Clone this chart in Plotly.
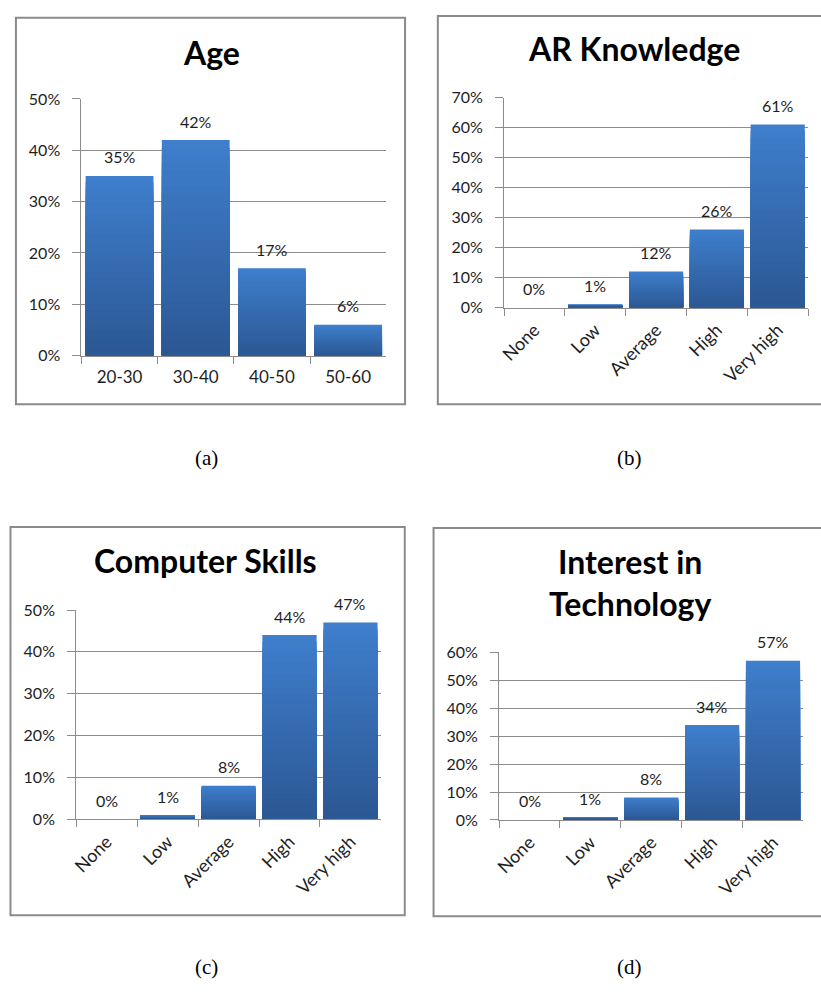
import plotly.graph_objects as go

# ---- data -------------------------------------------------------------
age_cats = ["20-30", "30-40", "40-50", "50-60"]
age_vals = [35, 42, 17, 6]

level_cats = ["None", "Low", "Average", "High", "Very high"]
ar_vals = [0, 1, 12, 26, 61]
computer_vals = [0, 1, 8, 44, 47]
interest_vals = [0, 1, 8, 34, 57]

W, H = 821, 994
FONT = "Lato"
GRID = "#8c8c8c"
TEXT = "#1e1e1e"
BAR_TOP = (62, 126, 204)
BAR_BOTTOM = (44, 88, 148)
STEPS = 28


def fx(px):
    return px / W


def fy(py):
    return 1 - py / H


def mix(t):
    c = [round(a + (b - a) * t) for a, b in zip(BAR_TOP, BAR_BOTTOM)]
    return "rgb({},{},{})".format(*c)


fig = go.Figure()

panels = [
    # title, cats, vals, ymax, plot box (x0, x1, ytop, ybottom), tickangle
    dict(title="Age", cats=age_cats, vals=age_vals, ymax=50,
         box=(76, 383, 90.7, 352.3), angle=0,
         title_xy=(207, 43), frame=(10, 402, 8, 402),
         caption="(a)", cap_xy=(202, 457)),
    dict(title="AR Knowledge", cats=level_cats, vals=ar_vals, ymax=70,
         box=(501.7, 808, 89.3, 303.3), angle=-45,
         title_xy=(633, 39), frame=(435, 835, 6, 402),
         caption="(b)", cap_xy=(628, 457)),
    dict(title="Computer Skills", cats=level_cats, vals=computer_vals, ymax=50,
         box=(70.7, 377.7, 611.7, 825), angle=-45,
         title_xy=(201, 561), frame=(4.5, 401.7, 527, 923),
         caption="(c)", cap_xy=(202, 976)),
    dict(title="Interest in<br>Technology", cats=level_cats, vals=interest_vals,
         ymax=60, box=(496.7, 803.3, 655, 825.7), angle=-45,
         title_xy=(629, 584), frame=(430.7, 835, 528, 924),
         caption="(d)", cap_xy=(628, 976)),
]

annotations = []
shapes = []
layout_axes = {}

for i, p in enumerate(panels, start=1):
    sfx = "" if i == 1 else str(i)
    xref, yref = "x" + sfx, "y" + sfx

    # gradient bars: stacked overlays, lighter at the top, darker at the base
    for s in range(STEPS):
        frac = 1 - s / STEPS
        fig.add_trace(go.Bar(
            x=p["cats"], y=[v * frac for v in p["vals"]],
            xaxis=xref, yaxis=yref, width=0.89,
            marker=dict(color=mix(s / (STEPS - 1)), line=dict(width=0)),
            showlegend=False, hoverinfo="skip",
        ))

    x0, x1, yt, yb = p["box"]
    layout_axes["xaxis" + sfx] = dict(
        domain=[fx(x0), fx(x1)], anchor=yref, type="category",
        range=[-0.5, len(p["cats"]) - 0.5],
        showgrid=False, showline=True, linecolor=GRID, linewidth=1,
        ticks="outside", tickson="boundaries", ticklen=7, tickcolor=GRID,
        tickangle=p["angle"],
        tickfont=dict(family=FONT, size=17 if p["angle"] == 0 else 18, color=TEXT),
        ticklabelstandoff=6 if p["angle"] == 0 else 4,
        fixedrange=True,
    )
    layout_axes["yaxis" + sfx] = dict(
        domain=[fy(yb), fy(yt)], anchor=xref, range=[0, p["ymax"]], dtick=10,
        ticksuffix="%", showgrid=True, gridcolor=GRID, gridwidth=1,
        showline=True, linecolor=GRID, linewidth=1,
        ticks="outside", ticklen=8, tickcolor=GRID,
        tickfont=dict(family=FONT, size=16, color=TEXT),
        ticklabelstandoff=9, zeroline=False, fixedrange=True,
    )

    # value labels above each bar
    for c, v in zip(p["cats"], p["vals"]):
        annotations.append(dict(
            x=c, y=v, xref=xref, yref=yref, text=f"{v}%", showarrow=False,
            yanchor="middle", yshift=19,
            font=dict(family=FONT, size=16, color=TEXT),
        ))

    # chart title
    tx, ty = p["title_xy"]
    annotations.append(dict(
        x=fx(tx), y=fy(ty), xref="paper", yref="paper", text=p["title"],
        showarrow=False, xanchor="center", yanchor="middle",
        font=dict(family=FONT, size=32, color="#000000", weight="bold"),
    ))

    # sub-figure caption
    cx, cy = p["cap_xy"]
    annotations.append(dict(
        x=fx(cx), y=fy(cy), xref="paper", yref="paper", text=p["caption"],
        showarrow=False, xanchor="center", yanchor="middle",
        font=dict(family="Liberation Serif", size=21, color="#000000"),
    ))

    # chart frame
    l, r, t, b = p["frame"]
    shapes.append(dict(
        type="rect", xref="paper", yref="paper",
        x0=fx(l), x1=fx(r), y0=fy(b), y1=fy(t),
        line=dict(color="#8a8a8a", width=2), fillcolor="rgba(0,0,0,0)",
        layer="below",
    ))

fig.update_layout(
    width=W, height=H, margin=dict(l=0, r=0, t=0, b=0),
    paper_bgcolor="white", plot_bgcolor="white",
    barmode="overlay", bargap=0.11,
    annotations=annotations, shapes=shapes,
    **layout_axes,
)

fig.write_html("out.html")
